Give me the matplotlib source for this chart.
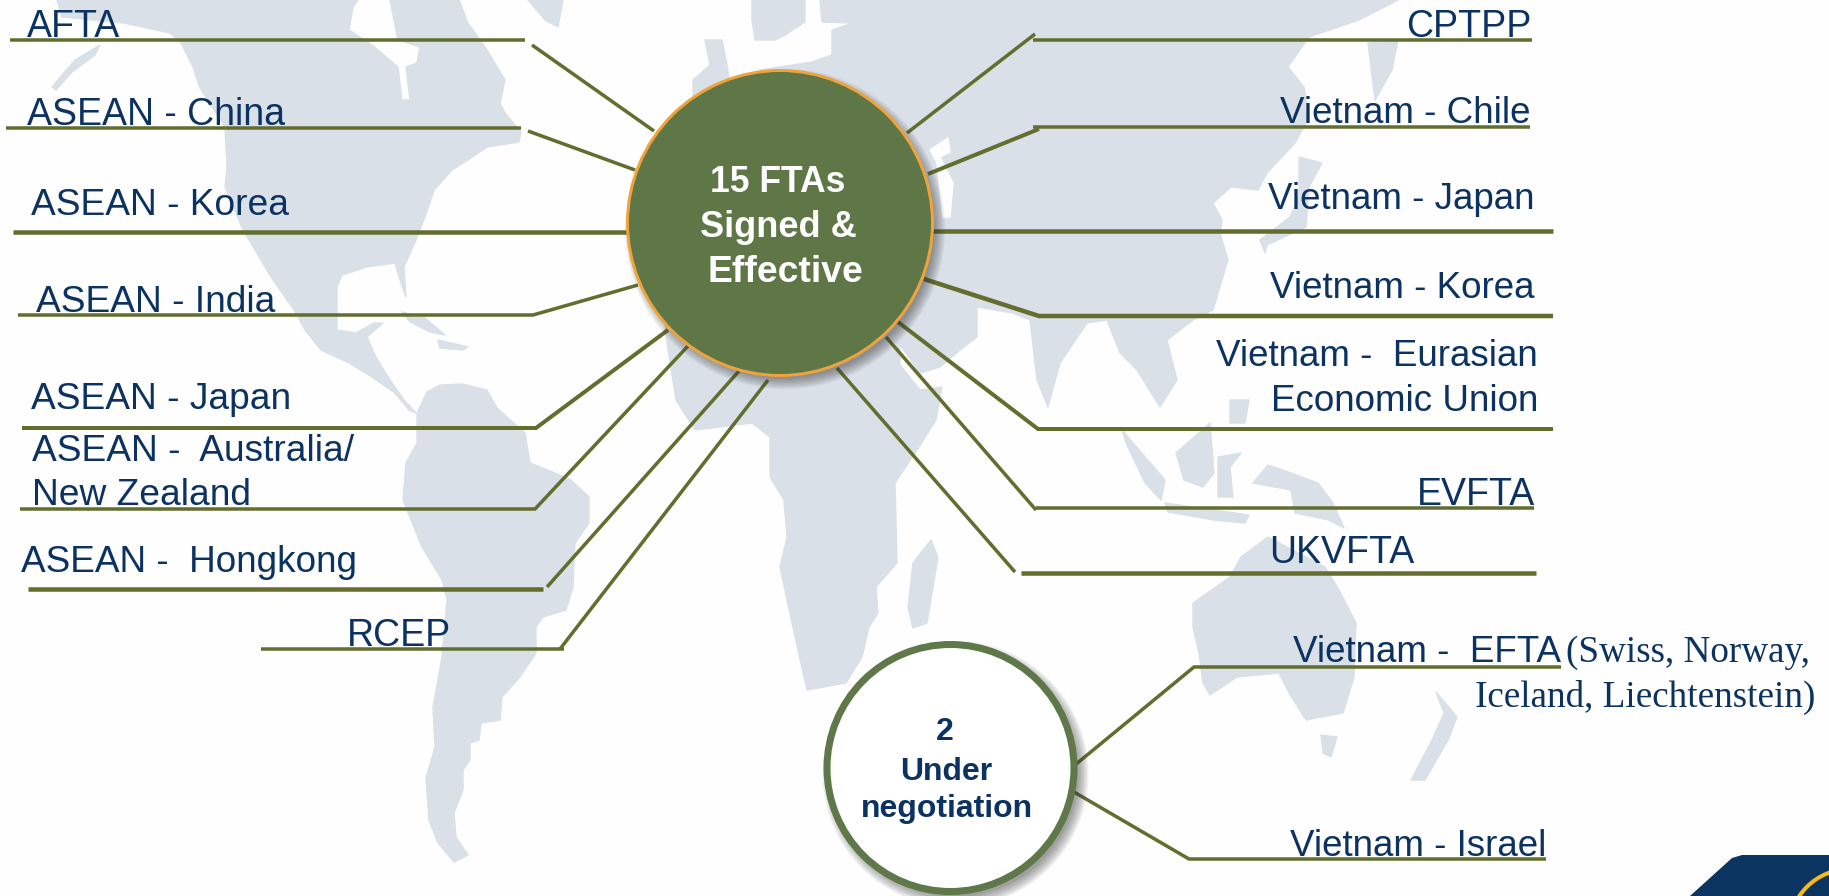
import matplotlib
matplotlib.use('Agg')
import matplotlib.pyplot as plt
from matplotlib.patches import Circle, Polygon

W, H = 1829, 896
NAVY = '#0B3261'
LINE = '#626D2E'
MAP = '#D9E0E7'
PAPER = '#FEFEFE'
GREEN = '#5F7647'
RING = '#5F7849'
ORANGE = '#EFA33B'

north_america = [(57,0),(62,17),(124,23),(170,33),(181,43),(193,67),(200,88),(225,127),(227,167),(225,187),(243,230),(255,250),(271,277),(294,310),(305,330),(321,350),(349,363),(372,377),(395,393),(409,410),(416,413),(404,400),(388,377),(376,357),(367,337),(383,323),(374,323),(356,333),(337,330),(337,287),(342,275),(367,267),(395,263),(399,277),(406,297),(404,267),(416,240),(425,217),(434,190),(452,170),(468,160),(487,147),(519,142),(521,132),(505,113),(500,103),(505,80),(487,50),(468,23),(459,0),(390,0),(398,40),(420,47),(417,63),(406,67),(410,100),(402,100),(398,67),(372,45),(349,30),(353,7),(358,0)]
alaska_tail = [(52,87),(75,60),(100,45),(95,55),(72,72),(56,90)]
greenland = [(528,0),(563,0),(558,27),(545,20)]
arctic_isle = [(392,0),(460,0),(440,12),(410,14)]
cuba = [(402,312),(425,318),(445,335),(430,332),(410,322)]
hispaniola = [(438,340),(468,347),(463,350),(440,348)]
south_america = [(417,413),(427,392),(440,385),(462,384),(487,390),(497,408),(525,433),(530,463),(548,470),(571,480),(589,497),(589,523),(575,543),(573,587),(566,610),(543,617),(536,627),(536,653),(520,677),(502,697),(500,720),(481,723),(479,740),(470,743),(470,760),(463,770),(463,790),(454,813),(456,837),(468,855),(454,862),(438,843),(429,820),(426,778),(435,747),(433,707),(442,657),(447,600),(442,580),(422,547),(403,500),(406,463),(417,443)]
eurafrasia = [(665,330),(676,400),(695,430),(752,423),(770,437),(770,477),(784,500),(787,537),(780,567),(787,600),(798,650),(807,690),(846,683),(862,657),(869,627),(878,613),(876,587),(897,563),(895,483),(917,450),(936,420),(942,387),(920,390),(900,365),(900,345),(920,373),(940,367),(960,350),(977,337),(977,307),(1013,313),(1030,320),(1037,380),(1048,407),(1060,363),(1087,323),(1107,320),(1120,353),(1137,370),(1160,407),(1177,380),(1167,340),(1193,320),(1213,310),(1228,260),(1220,233),(1222,220),(1213,203),(1231,187),(1258,190),(1267,173),(1295,143),(1309,117),(1304,87),(1288,67),(1309,37),(1359,20),(1398,0),(820,0),(822,22),(853,23),(832,30),(832,55),(812,62),(760,70),(690,150)]
inland_sea = [(930,150),(948,138),(950,152),(940,157),(953,183),(950,217),(943,217),(937,163)]
uk_isles = [(705,40),(722,40),(727,65),(730,85),(693,100),(693,80),(710,65)]
scandinavia = [(752,0),(805,0),(805,22),(785,35),(775,40),(755,40),(752,20)]
kamchatka = [(1368,43),(1398,40),(1392,70),(1375,100)]
japan = [(1322,163),(1309,187),(1306,227),(1267,245),(1265,253),(1260,240),(1290,217),(1299,197),(1299,157)]
madagascar = [(931,540),(938,557),(927,623),(913,628),(908,607),(913,563)]
sumatra = [(1122,430),(1165,480),(1161,500),(1145,483),(1126,443)]
borneo = [(1176,453),(1210,423),(1214,473),(1203,487),(1184,480)]
sulawesi = [(1218,457),(1241,453),(1230,467),(1233,497),(1218,497)]
new_guinea = [(1268,465),(1291,473),(1318,483),(1333,503),(1344,528),(1329,520),(1295,513),(1291,490),(1253,483)]
java = [(1165,503),(1249,515),(1245,523),(1214,520),(1168,512)]
philippines = [(1230,400),(1249,400),(1245,423),(1230,423)]
australia = [(1193,603),(1230,577),(1241,557),(1268,537),(1325,567),(1339,590),(1356,623),(1354,677),(1343,713),(1306,720),(1289,693),(1279,673),(1237,677),(1210,695),(1203,683),(1199,653),(1193,627)]
tasmania = [(1321,735),(1337,737),(1331,757),(1323,753)]
new_zealand = [(1436,692),(1457,717),(1448,740),(1425,780),(1411,780),(1432,740),(1444,713)]
land = [north_america, alaska_tail, greenland, arctic_isle, cuba, hispaniola, south_america,
        eurafrasia, uk_isles, scandinavia, kamchatka, japan, madagascar, sumatra, borneo,
        sulawesi, new_guinea, java, philippines, australia, tasmania, new_zealand]

left_labels = [('AFTA',27,37,27),('ASEAN - China',27,125,27),('ASEAN - Korea',31,215,26.7),
               ('ASEAN - India',36,312,26.7),('ASEAN - Japan',31,409,26.7),('ASEAN -  Australia/',32,461,26.7),
               ('New Zealand',32,505,26.7),('ASEAN -  Hongkong',21,572,26.6),('RCEP',347,646,27)]
right_labels = [('CPTPP',1532,37,27),('Vietnam - Chile',1530,123,26.5),('Vietnam - Japan',1534,209,26.5),
                ('Vietnam - Korea',1534,298,26.5),('Vietnam -  Eurasian',1538,366,26.5),
                ('Economic Union',1538,411,26.5),('EVFTA',1535,505,27),('UKVFTA',1414,563,27),
                ('Vietnam -  EFTA',1561,662,26.5),('Vietnam - Israel',1546,856,26.5)]
serif_labels = [('(Swiss, Norway,',1810,662),('Iceland, Liechtenstein)',1815,707)]
spokes = [([(10,40),(525,40)],3.5),([(532,45),(654,131)],3.5),
          ([(6,128),(521,128)],3.5),([(528,131),(635,170)],3.5),
          ([(13,232),(630,232)],4.5),
          ([(18,315),(533,315),(638,285)],3.5),
          ([(22,428),(536,428),(668,330)],4),
          ([(20,509),(535,509),(688,346)],3.5),
          ([(28,589),(543,589)],4.5),([(547,587),(739,371)],3.5),
          ([(261,649),(564,649)],3.5),([(560,649),(768,380)],3.5),
          ([(1532,40),(1033,40)],3.5),([(1035,34),(907,133)],3.5),
          ([(1530,127),(1033,127)],3.5),([(1039,129),(928,174)],4),
          ([(1553,231),(930,231)],4.5),
          ([(1553,316),(1039,316),(924,279)],4.5),
          ([(1553,429),(1038,429),(898,322)],4),
          ([(1534,508),(1036,508)],3.5),([(1036,510),(886,337)],3.5),
          ([(1536,573),(1021,573)],4.5),([(1015,572),(837,368)],3.5),
          ([(1561,667),(1194,667),(1075,765)],3.5),
          ([(1546,859),(1189,859),(1074,792)],3.5)]
signed_lines = [('15 FTAs',778,192,25.6),('Signed &',778,237,26),('Effective',785,282,26.8)]
nego_lines = [('2',945,740),('Under',946,780),('negotiation',947,817)]

plt.rcParams['font.family'] = ['Liberation Sans', 'DejaVu Sans']
fig = plt.figure(figsize=(W/100, H/100), dpi=100, facecolor=PAPER)
ax = fig.add_axes([0, 0, 1, 1])
ax.set_xlim(0, W); ax.set_ylim(H, 0); ax.axis('off')
px = 0.72

for poly in land:
    ax.add_patch(Polygon(poly, closed=True, fc=MAP, ec=MAP, lw=1, zorder=1, joinstyle='round'))
ax.add_patch(Polygon(inland_sea, closed=True, fc=PAPER, ec=PAPER, lw=1, zorder=1.5))
for pts, w in spokes:
    ax.plot([p[0] for p in pts], [p[1] for p in pts], color=LINE, lw=w*px, zorder=2,
            solid_joinstyle='miter', solid_capstyle='butt')

def shadow(cx, cy, r, dx, dy):
    for i in range(8):
        ax.add_patch(Circle((cx+dx, cy+dy), r+6-i*1.5, fc='#303030', ec='none', alpha=0.07, zorder=3))

shadow(780, 223, 154, 5, 6)
ax.add_patch(Circle((780, 223), 152.5, fc=GREEN, ec=ORANGE, lw=3*px, zorder=4))
shadow(950.5, 768, 127, 5, 6)
ax.add_patch(Circle((950.5, 768), 123.5, fc='white', ec=RING, lw=7*px, zorder=4))

for t, x, y, s in signed_lines:
    ax.text(x, y, t, color='white', fontsize=s, fontweight='bold', ha='center', va='baseline', zorder=5)
for t, x, y in nego_lines:
    ax.text(x, y, t, color=NAVY, fontsize=23, fontweight='bold', ha='center', va='baseline', zorder=5)
for t, x, y, s in left_labels:
    ax.text(x, y, t, color=NAVY, fontsize=s, ha='left', va='baseline', zorder=5)
for t, x, y, s in right_labels:
    ax.text(x, y, t, color=NAVY, fontsize=s, ha='right', va='baseline', zorder=5)
for t, x, y in serif_labels:
    ax.text(x, y, t, color=NAVY, fontsize=26.7, family='Liberation Serif', ha='right', va='baseline', zorder=5)

ax.add_patch(Polygon([(1690,896),(1732,858),(1742,855),(1829,855),(1829,896)], closed=True, fc='#0B3461', ec='none', zorder=6))
ax.add_patch(Circle((1850, 930), 61, fc='none', ec='#FDB913', lw=4*px, zorder=7))

fig.savefig('out.png', dpi=100, facecolor=fig.get_facecolor())
